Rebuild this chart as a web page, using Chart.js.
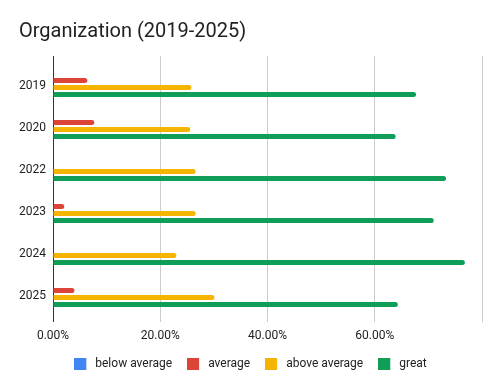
<!DOCTYPE html>
<html>
<head>
<meta charset="utf-8">
<script src="https://cdn.jsdelivr.net/npm/chart.js@4.4.1/dist/chart.umd.min.js"></script>
<style>
html,body{margin:0;padding:0;background:#fff;}
#wrap{width:501px;height:389px;}
</style>
</head>
<body>
<div id="wrap"><canvas id="c" width="501" height="389"></canvas></div>
<script>
const categories = ["2019", "2020", "2022", "2023", "2024", "2025"];
const belowAverage = [0, 0, 0, 0, 0, 0];
const average = [6.4, 7.7, 0, 2.1, 0, 4.0];
const aboveAverage = [25.8, 25.6, 26.6, 26.6, 23.0, 30.1];
const great = [67.7, 63.9, 73.3, 71.0, 76.8, 64.3];
const xTicks = [0, 20, 40, 60, 80];
const seriesNames = ["below average", "average", "above average", "great"];
const seriesColors = ['#4285F4', '#DB4437', '#F4B400', '#0F9D58'];

const gridColor = (ctx) => (ctx.tick && ctx.tick.value === 0) ? '#333333' : '#cccccc';
const FONT = "Roboto";

function boxImg(color) {
  const c = document.createElement('canvas');
  c.width = 15; c.height = 12;
  const g = c.getContext('2d');
  g.fillStyle = color; g.fillRect(0, 0, 12, 12);
  return c;
}
const boxImages = seriesColors.map(boxImg);

const mk = (i, data) => ({
  label: seriesNames[i], data, backgroundColor: seriesColors[i], borderColor: seriesColors[i],
  borderWidth: 0, borderRadius: 3, borderSkipped: 'start',
  categoryPercentage: 0.67, barPercentage: 0.714
});

new Chart(document.getElementById('c'), {
  type: 'bar',
  data: {
    labels: categories,
    datasets: [
      mk(0, belowAverage),
      mk(1, average),
      mk(2, aboveAverage),
      mk(3, great)
    ]
  },
  options: {
    indexAxis: 'y',
    responsive: false,
    animation: false,
    devicePixelRatio: 1,
    layout: { padding: { left: 19, right: 19, top: 0, bottom: 9 } },
    plugins: {
      title: {
        display: true, text: 'Organization (2019-2025)', align: 'start',
        color: '#222222', font: { family: FONT, size: 20, weight: 'normal' },
        padding: { top: 20, bottom: 12 }
      },
      legend: {
        position: 'bottom',
        labels: {
          usePointStyle: true, pointStyleWidth: 15, boxHeight: 12, padding: 15,
          color: '#222222', font: { family: FONT, size: 12 },
          generateLabels: (chart) => {
            const items = Chart.defaults.plugins.legend.labels.generateLabels(chart);
            items.forEach((it, i) => { it.pointStyle = boxImages[i]; });
            return items;
          }
        }
      },
      tooltip: { enabled: false }
    },
    scales: {
      x: {
        type: 'linear', position: 'bottom', min: xTicks[0], max: xTicks[xTicks.length - 1],
        afterBuildTicks: (s) => { s.ticks = xTicks.map(v => ({ value: v })); },
        ticks: {
          color: '#222222', font: { family: FONT, size: 12 }, padding: 7,
          callback: (v) => v === xTicks[xTicks.length - 1] ? '' : v.toFixed(2) + '%'
        },
        grid: { color: gridColor, tickColor: gridColor, tickLength: 7, lineWidth: 1 },
        border: { display: false },
        afterFit: (s) => { s.height = 28; }
      },
      x2: {
        type: 'linear', position: 'top', min: xTicks[0], max: xTicks[xTicks.length - 1],
        afterBuildTicks: (s) => { s.ticks = xTicks.map(v => ({ value: v })); },
        ticks: { display: false },
        grid: { drawOnChartArea: false, color: gridColor, tickColor: gridColor, tickLength: 7 },
        border: { display: false }
      },
      y: {
        type: 'category',
        ticks: { color: '#222222', font: { family: FONT, size: 12 }, padding: 7, labelOffset: 2 },
        grid: { display: false, drawTicks: false },
        border: { display: false },
        afterFit: (s) => { s.width = 34; }
      }
    }
  }
});
</script>
</body>
</html>
